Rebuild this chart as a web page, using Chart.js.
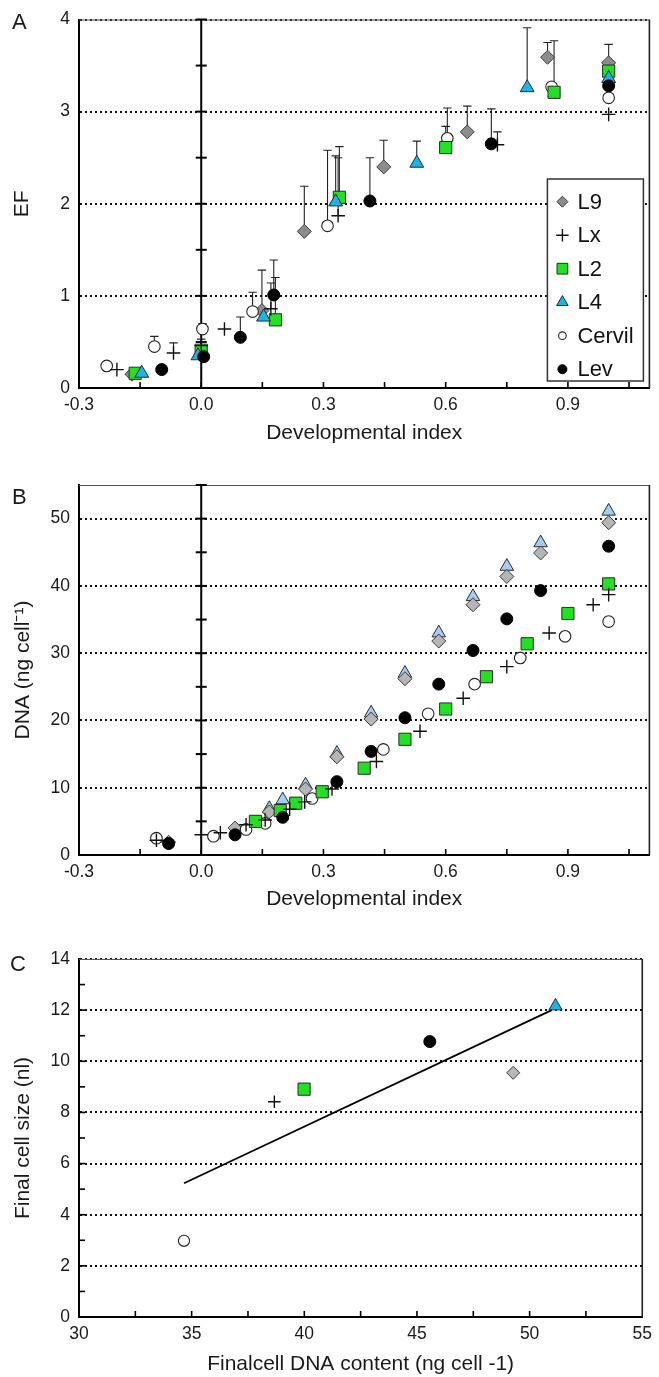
<!DOCTYPE html>
<html lang="en">
<head>
<meta charset="utf-8">
<title>EF, DNA content and final cell size</title>
<script src="https://cdn.jsdelivr.net/npm/chart.js@4/dist/chart.umd.min.js"></script>
<style>
  html, body { margin: 0; padding: 0; background: #ffffff; }
  body { position: relative; width: 659px; height: 1377px; overflow: hidden; }
  canvas { position: absolute; left: 0; }
  .tag { position: absolute; font: 22px "Liberation Sans", Arial, sans-serif; line-height: 22px; color: #1a1a1a; }
</style>
</head>
<body>
<canvas id="chartA" width="659" height="450" style="top:0px"></canvas>
<canvas id="chartB" width="659" height="470" style="top:450px"></canvas>
<canvas id="chartC" width="659" height="457" style="top:920px"></canvas>
<div class="tag" style="left:12px;top:11px">A</div>
<div class="tag" style="left:12px;top:486px">B</div>
<div class="tag" style="left:10px;top:953px">C</div>
<script>
const FONT = "'Liberation Sans', Arial, sans-serif";
Chart.defaults.font.family = FONT;
Chart.defaults.color = "#1a1a1a";

const lineNames = ["L9", "Lx", "L2", "L4", "Cervil", "Lev"];

// Panel A - EF vs developmental index: [index, EF, top of error bar]
const efL9 = [[-0.17, 0.15, null], [0.149, 0.84, 1.28], [0.253, 1.70, 2.19], [0.448, 2.40, 2.69], [0.653, 2.78, 3.06], [0.85, 3.59, 3.75], [1.0, 3.53, 3.73]];
const efLx = [[-0.207, 0.20, null], [-0.068, 0.38, 0.49], [0.0, 0.46, 0.53], [0.057, 0.64, null], [0.171, 0.86, 1.14], [0.336, 1.87, 2.50], [0.727, 2.64, 2.78], [1.0, 2.97, null]];
const efL2 = [[-0.162, 0.16, null], [0.0, 0.41, 0.50], [0.182, 0.74, 1.20], [0.339, 2.07, 2.62], [0.60, 2.61, 2.84], [0.866, 3.21, 3.77], [1.0, 3.44, null]];
const efL4 = [[-0.146, 0.16, null], [-0.008, 0.35, null], [0.153, 0.77, null], [0.33, 2.02, 2.52], [0.529, 2.44, 2.68], [0.80, 3.26, 3.91], [1.0, 3.36, null]];
const efCervil = [[-0.232, 0.24, 0.27], [-0.115, 0.45, 0.56], [0.003, 0.64, 0.70], [0.126, 0.83, 1.04], [0.31, 1.76, 2.58], [0.604, 2.71, 3.04], [0.86, 3.27, null], [1.0, 3.15, null]];
const efLev = [[-0.097, 0.20, null], [0.006, 0.34, null], [0.096, 0.55, 0.77], [0.178, 1.01, 1.39], [0.414, 2.03, 2.50], [0.712, 2.65, 3.03], [1.0, 3.28, null]];

// Panel B - DNA per cell vs developmental index: [index, ng/cell]
const dnaL9 = [[-0.08, 1.9], [0.083, 4.0], [0.167, 6.4], [0.256, 9.8], [0.333, 14.6], [0.417, 20.2], [0.5, 26.2], [0.583, 31.8], [0.667, 37.2], [0.75, 41.4], [0.833, 44.9], [1.0, 49.4]];
const dnaLx = [[-0.11, 2.2], [0.0, 3.0], [0.047, 3.3], [0.11, 4.5], [0.157, 5.2], [0.217, 6.8], [0.254, 7.9], [0.321, 9.8], [0.43, 13.9], [0.537, 18.4], [0.643, 23.3], [0.75, 28.0], [0.854, 33.0], [0.962, 37.2], [1.0, 38.7]];
const dnaL2 = [[0.133, 5.0], [0.194, 6.6], [0.232, 7.7], [0.297, 9.4], [0.4, 12.9], [0.5, 17.2], [0.6, 21.7], [0.7, 26.5], [0.8, 31.4], [0.9, 35.9], [1.0, 40.3]];
const dnaL4 = [[0.167, 6.9], [0.2, 8.2], [0.256, 10.4], [0.333, 15.1], [0.417, 21.1], [0.5, 27.0], [0.583, 33.0], [0.667, 38.4], [0.75, 42.9], [0.833, 46.4], [1.0, 51.1]];
const dnaCervil = [[-0.11, 2.5], [0.03, 2.8], [0.11, 3.8], [0.157, 4.7], [0.272, 8.4], [0.447, 15.7], [0.557, 21.0], [0.671, 25.4], [0.783, 29.3], [0.893, 32.5], [1.0, 34.7]];
const dnaLev = [[-0.08, 1.7], [0.083, 3.0], [0.2, 5.6], [0.333, 10.9], [0.417, 15.4], [0.5, 20.4], [0.583, 25.4], [0.667, 30.4], [0.75, 35.1], [0.833, 39.3], [1.0, 45.9]];

// Panel C - final cell size vs final DNA content
const finalLines = ["Cervil", "Lx", "L2", "Lev", "L9", "L4"];
const finalDna = [34.66, 38.67, 39.99, 45.57, 49.27, 51.15];
const finalSize = [2.98, 8.42, 8.91, 10.77, 9.55, 12.16];
const fitDna = [34.66, 50.98];
const fitSize = [5.23, 12.0];

// tick labels
const devTicks = [-0.3, 0, 0.3, 0.6, 0.9];
const efTicks = [0, 1, 2, 3, 4];
const dnaTicks = [0, 10, 20, 30, 40, 50];
const dnaFinalTicks = [30, 35, 40, 45, 50, 55];
const sizeTicks = [0, 2, 4, 6, 8, 10, 12, 14];

// marker looks per line; index 0 = panel A, 1 = B, 2 = C
const looks = {
  L9:     { shape: "rectRot",  fill: ["#8c8c8c", "#b5b5b5", "#b8b8b8"], edge: "#3a3a3a", bw: 1,   r: [7, 7, 6.5], lr: 5.5 },
  Lx:     { shape: "cross",    fill: ["#000", "#000", "#000"],          edge: "#111",    bw: 1.4, r: [6.8, 6.8, 6.3], lr: 6.2 },
  L2:     { shape: "rect",     fill: ["#22e022", "#22e022", "#22e022"], edge: "#2a2a2a", bw: 1,   r: [8.6, 8.6, 8.6], lr: 7.6 },
  L4:     { shape: "triangle", fill: ["#1cb3e6", "#a7ccef", "#1cb3e6"], edge: "#2a2a2a", bw: 1,   r: [8, 7.8, 7.6], lr: 6.6 },
  Cervil: { shape: "circle",   fill: ["#fff", "#fff", "#fff"],          edge: "#222",    bw: 1.1, r: [5.8, 5.8, 5.6], lr: 3.8 },
  Lev:    { shape: "circle",   fill: ["#000", "#000", "#000"],          edge: "#000",    bw: 1,   r: [6, 6, 6], lr: 4.5 }
};

function series(name, pts, v) {
  const lk = looks[name];
  return {
    label: name,
    data: pts.map(p => ({ x: p[0], y: p[1], e: p.length > 2 ? p[2] : null })),
    pointStyle: lk.shape,
    pointRadius: lk.r[v],
    pointHoverRadius: lk.r[v],
    backgroundColor: lk.fill[v],
    borderColor: lk.edge,
    borderWidth: lk.bw,
    showLine: false
  };
}

// extra frame pieces, zero line, inward ticks, error bars and the boxed legend
const decor = {
  id: "decor",
  beforeDatasetsDraw(chart, args, opts) {
    const { ctx, chartArea: a, scales: { x, y } } = chart;
    ctx.save();
    ctx.lineCap = "butt";
    ctx.strokeStyle = "#555"; ctx.lineWidth = 1.2;
    ctx.beginPath(); ctx.moveTo(a.left, a.top + 0.5); ctx.lineTo(a.right, a.top + 0.5); ctx.stroke();
    ctx.strokeStyle = "#222"; ctx.lineWidth = 1.6;
    ctx.beginPath(); ctx.moveTo(a.right, a.top); ctx.lineTo(a.right, a.bottom); ctx.stroke();

    ctx.strokeStyle = "#000"; ctx.lineWidth = 1.6;
    if (opts.xMinor) {
      const n = Math.floor((x.max - x.min) / opts.xMinor + 1e-6);
      for (let i = 1; i <= n; i++) {
        const px = x.getPixelForValue(x.min + i * opts.xMinor);
        if (px >= a.right - 2) continue;
        ctx.beginPath(); ctx.moveTo(px, a.bottom); ctx.lineTo(px, a.bottom - 6); ctx.stroke();
      }
    }
    if (opts.yMinor) {
      const n = Math.floor((y.max - y.min) / opts.yMinor + 1e-6);
      for (let i = 1; i < n; i++) {
        const py = y.getPixelForValue(y.min + i * opts.yMinor);
        ctx.beginPath(); ctx.moveTo(a.left, py); ctx.lineTo(a.left + 6, py); ctx.stroke();
      }
    }
    if (opts.zeroStep) {
      const px = x.getPixelForValue(0);
      ctx.lineWidth = 2;
      ctx.beginPath(); ctx.moveTo(px, a.bottom); ctx.lineTo(px, a.top); ctx.stroke();
      const n = Math.floor((y.max - y.min) / opts.zeroStep + 1e-6);
      for (let i = 1; i <= n; i++) {
        const py = y.getPixelForValue(y.min + i * opts.zeroStep);
        ctx.beginPath(); ctx.moveTo(px - 5.5, py); ctx.lineTo(px + 5.5, py); ctx.stroke();
      }
    }

    // error bars (upper side only)
    ctx.strokeStyle = "#222"; ctx.lineWidth = 1.1;
    chart.data.datasets.forEach(ds => {
      ds.data.forEach(p => {
        if (p.e == null) return;
        const px = x.getPixelForValue(p.x);
        const py = y.getPixelForValue(p.y);
        const pe = y.getPixelForValue(p.e);
        ctx.beginPath();
        ctx.moveTo(px, py); ctx.lineTo(px, pe);
        ctx.moveTo(px - 4.2, pe); ctx.lineTo(px + 4.2, pe);
        ctx.stroke();
      });
    });
    ctx.restore();
  },
  afterDraw(chart, args, opts) {
    if (!opts.legend) return;
    const { ctx, chartArea: a } = chart;
    const L = opts.legend;
    const bx = a.right - L.right - L.w;
    const by = a.bottom - L.bottom - L.h;
    ctx.save();
    ctx.fillStyle = "#fff";
    ctx.fillRect(bx, by, L.w, L.h);
    ctx.strokeStyle = "#333"; ctx.lineWidth = 1.5;
    ctx.strokeRect(bx, by, L.w, L.h);
    ctx.font = L.size + "px " + FONT;
    ctx.textBaseline = "middle";
    ctx.textAlign = "left";
    lineNames.forEach((name, k) => {
      const lk = looks[name];
      const cy = by + L.first + k * L.row;
      ctx.fillStyle = lk.fill[0];
      ctx.strokeStyle = lk.edge;
      ctx.lineWidth = lk.bw;
      Chart.helpers.drawPoint(ctx, { pointStyle: lk.shape, radius: lk.lr, borderWidth: lk.bw, rotation: 0 }, bx + L.mark, cy);
      ctx.fillStyle = "#111";
      ctx.fillText(name, bx + L.text, cy + 1);
    });
    ctx.restore();
  }
};

function axes(o) {
  return {
    x: {
      type: "linear", min: o.xMin, max: o.xMax,
      afterBuildTicks: s => { s.ticks = o.xTicks.map(v => ({ value: v })); },
      afterFit: s => { s.height = o.xHeight; },
      grid: { display: false, drawTicks: false },
      border: { display: true, color: "#000", width: 2 },
      ticks: { padding: 7, font: { size: 17.5 }, color: "#1a1a1a", callback: o.xFmt, autoSkip: false, maxRotation: 0 },
      title: { display: true, text: o.xTitle, color: "#1a1a1a", font: { size: 21 }, padding: { top: 0, bottom: o.xTitlePad } }
    },
    y: {
      type: "linear", min: o.yMin, max: o.yMax,
      afterBuildTicks: s => { s.ticks = o.yTicks.map(v => ({ value: v })); },
      afterFit: s => { s.width = 79; },
      grid: {
        drawTicks: false, lineWidth: 2,
        color: c => (c.tick && c.tick.value > 0) ? "#111" : "rgba(0,0,0,0)"
      },
      border: { display: true, color: "#000", width: 2, dash: [2, 3] },
      ticks: { padding: 9, font: { size: 17.5 }, color: "#1a1a1a", autoSkip: false },
      title: { display: true, text: o.yTitle, color: "#1a1a1a", font: { size: 21 }, padding: { top: o.yTitlePad, bottom: 0 } }
    }
  };
}

function baseOptions(o, deco, pad) {
  return {
    responsive: false,
    animation: false,
    events: [],
    layout: { padding: pad },
    scales: axes(o),
    plugins: { legend: { display: false }, tooltip: { enabled: false }, decor: deco }
  };
}

// Panel A
new Chart(document.getElementById("chartA"), {
  type: "scatter",
  data: {
    datasets: [
      series("Lev", efLev, 0), series("Lx", efLx, 0), series("L4", efL4, 0),
      series("L2", efL2, 0), series("Cervil", efCervil, 0), series("L9", efL9, 0)
    ]
  },
  options: baseOptions({
    xMin: -0.3, xMax: 1.1, xTicks: devTicks, xFmt: v => v.toFixed(1), xHeight: 62,
    xTitle: "Developmental index", xTitlePad: 4,
    yMin: 0, yMax: 4, yTicks: efTicks, yTitle: "EF", yTitlePad: 10
  }, {
    zeroStep: 0.5, xMinor: 0.15,
    legend: { w: 96, h: 202, right: 6, bottom: 7, first: 22.7, row: 33.5, mark: 15, text: 30, size: 22 }
  }, { left: 0, top: 18, right: 7, bottom: 0 }),
  plugins: [decor]
});

// Panel B
new Chart(document.getElementById("chartB"), {
  type: "scatter",
  data: {
    datasets: [
      series("Lev", dnaLev, 1), series("Lx", dnaLx, 1), series("L2", dnaL2, 1),
      series("Cervil", dnaCervil, 1), series("L9", dnaL9, 1), series("L4", dnaL4, 1)
    ]
  },
  options: baseOptions({
    xMin: -0.3, xMax: 1.1, xTicks: devTicks, xFmt: v => v.toFixed(1), xHeight: 65,
    xTitle: "Developmental index", xTitlePad: 8,
    yMin: 0, yMax: 55, yTicks: dnaTicks, yTitle: "DNA (ng cell\u207B\u00B9)", yTitlePad: 11
  }, { zeroStep: 5, xMinor: 0.15 }, { left: 0, top: 35, right: 7, bottom: 0 }),
  plugins: [decor]
});

// Panel C
const finalSets = finalLines.map((name, i) => series(name, [[finalDna[i], finalSize[i]]], 2));
finalSets.push({
  label: "fit",
  data: fitDna.map((d, i) => ({ x: d, y: fitSize[i] })),
  showLine: true,
  pointRadius: 0,
  borderColor: "#000",
  borderWidth: 1.8,
  backgroundColor: "#000"
});
new Chart(document.getElementById("chartC"), {
  type: "scatter",
  data: { datasets: finalSets },
  options: baseOptions({
    xMin: 30, xMax: 55, xTicks: dnaFinalTicks, xFmt: v => String(v), xHeight: 60,
    xTitle: "Finalcell DNA content (ng cell -1)", xTitlePad: 0,
    yMin: 0, yMax: 14, yTicks: sizeTicks, yTitle: "Final cell size (nl)", yTitlePad: 11
  }, { xMinor: 2.5, yMinor: 1 }, { left: 0, top: 39, right: 10, bottom: 0 }),
  plugins: [decor]
});
</script>
</body>
</html>
